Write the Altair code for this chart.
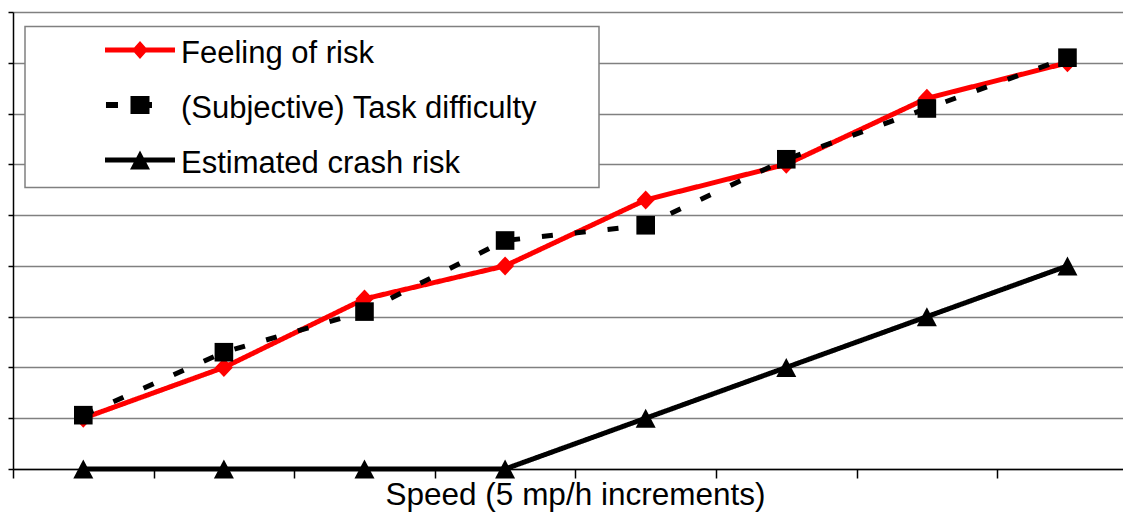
import altair as alt
import pandas as pd

# ---- data ----
speed = [1, 2, 3, 4, 5, 6, 7, 8]
feeling_of_risk = [1.0, 2.0, 3.35, 4.0, 5.3, 6.0, 7.3, 8.0]
task_difficulty = [1.06, 2.3, 3.1, 4.5, 4.8, 6.1, 7.1, 8.1]
crash_risk = [0, 0, 0, 0, 1, 2, 3, 4]
series_names = ["Feeling of risk", "(Subjective) Task difficulty", "Estimated crash risk"]
series_colors = ["#ff0000", "#000000", "#000000"]
series_dash = [[1, 0], [11, 22], [1, 0]]
y_grid_values = [0, 1, 2, 3, 4, 5, 6, 7, 8, 9]
x_tick_values = [0, 1, 2, 3, 4, 5, 6, 7]
x_title = "Speed (5 mp/h increments)"

# marker shapes in the plot (custom paths)
plot_shapes = [
    "M0,-0.95L0.9,0L0,0.95L-0.9,0Z",
    "M-0.93,-0.93H0.93V0.93H-0.93Z",
    "M0,-0.95L1,0.95L-1,0.95Z",
]
# legend symbols: line sample + marker (+ invisible points fixing the row box)
ROW = "M0,-1.13M0,0.87 "
legend_shapes = [
    ROW + "M-1.296,-0.223H1.296V-0.037H-1.296Z M0,-0.463L0.296,-0.13L0,0.203L-0.296,-0.13Z",
    ROW + "M-1.26,-0.241H-0.815V-0.019H-1.26Z M-0.352,-0.463H0.352V0.203H-0.352Z M0.33,-0.241H0.444V-0.019H0.33Z",
    ROW + "M-1.296,-0.223H1.296V-0.037H-1.296Z M0,-0.482L0.37,0.222H-0.37Z",
]

rows = []
for name, vals in zip(series_names, [feeling_of_risk, task_difficulty, crash_risk]):
    for s, v in zip(speed, vals):
        rows.append({"series": name, "speed": s, "value": v})
df = pd.DataFrame(rows)

FONT = "Liberation Sans"

x_enc = alt.X(
    "pos:Q",
    scale=alt.Scale(domain=[0, 7.895], nice=False, zero=False),
    axis=alt.Axis(
        values=x_tick_values, labels=False, ticks=True, tickSize=9,
        tickColor="black", tickWidth=1.5, domainColor="black", domainWidth=1.5,
        grid=False, title=x_title, titleFont=FONT, titleFontSize=31.5,
        titleFontWeight="normal", titleColor="black", titleX=562, titleY=35,
        titleBaseline="alphabetic", titleAlign="center",
    ),
)
y_enc = alt.Y(
    "value:Q",
    scale=alt.Scale(domain=[0, 9], nice=False),
    axis=alt.Axis(
        values=y_grid_values, labels=False, tickSize=5, tickColor="black",
        tickWidth=1.5, domainColor="black", domainWidth=1.5, grid=True,
        gridColor="#808080", gridWidth=1.5, title=None,
    ),
)

color_scale = alt.Scale(domain=series_names, range=series_colors)

base = alt.Chart(df).transform_calculate(pos="datum.speed - 0.5")

layers = []
for name in series_names:
    sub = base.transform_filter(alt.datum.series == name)
    line = sub.mark_line(strokeWidth=5, strokeCap="butt").encode(
        x=x_enc, y=y_enc,
        color=alt.Color("series:N", scale=color_scale, legend=None),
        strokeDash=alt.StrokeDash("series:N", scale=alt.Scale(domain=series_names, range=series_dash), legend=None),
        order="speed:Q",
    )
    pts = sub.mark_point(filled=True, opacity=1, size=400, strokeWidth=0).encode(
        x=x_enc, y=y_enc,
        color=alt.Color("series:N", scale=color_scale, legend=None),
        shape=alt.Shape("series:N", scale=alt.Scale(domain=series_names, range=plot_shapes), legend=None),
    )
    layers += [line, pts]

leg = alt.Legend(
    title="\u00a0", titleOrient="right", titlePadding=62, titleFontSize=1,
    orient="none", legendX=12, legendY=14.5, direction="vertical",
    padding=0, rowPadding=0, symbolOffset=88, labelOffset=14,
    symbolSize=2916, symbolStrokeWidth=0, labelFont=FONT, labelFontSize=31,
    labelColor="black", labelLimit=1000, fillColor="white", strokeColor="#808080",
)
legend_layer = alt.Chart(df).transform_filter("datum.value < -100").mark_point(
    filled=True, opacity=1, size=2916, strokeWidth=0
).encode(
    color=alt.Color("series:N", scale=alt.Scale(domain=series_names, range=series_colors), legend=leg),
    shape=alt.Shape("series:N", scale=alt.Scale(domain=series_names, range=legend_shapes), legend=leg),
)
layers.append(legend_layer)

chart = alt.layer(*layers).resolve_scale(
    color="independent", shape="independent", strokeDash="independent"
).properties(
    width=1110, height=457,
    padding={"left": 5, "top": 4, "right": 0, "bottom": 43},
    autosize=alt.AutoSizeParams(type="none"),
    background="white",
).configure_view(strokeWidth=0).configure_legend(strokeWidth=1.5)

chart.save("out.html", embed_options={"renderer": "svg", "actions": False})
